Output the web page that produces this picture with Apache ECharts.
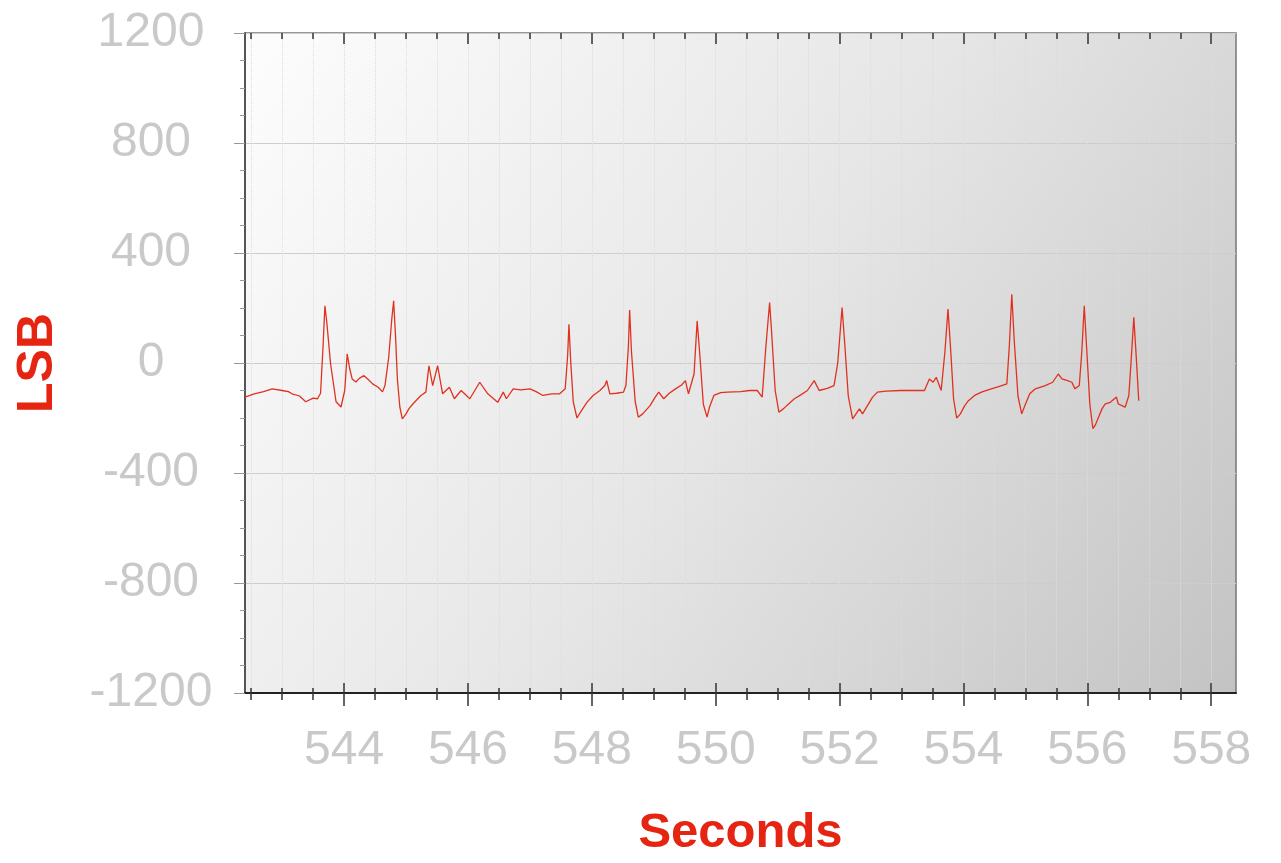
<!DOCTYPE html>
<html>
<head>
<meta charset="utf-8">
<script src="https://cdn.jsdelivr.net/npm/echarts@6/dist/echarts.min.js"></script>
<style>
html,body{margin:0;padding:0;background:#fff;}
#chart{width:1281px;height:863px;}
</style>
</head>
<body>
<div id="chart"></div>
<script>
// Time (seconds) of each sample
const times = [542.40, 542.48, 542.55, 542.70, 542.84, 543.00, 543.10, 543.16, 543.28, 543.38, 543.50, 543.57, 543.62,
  543.66, 543.69, 543.72, 543.78, 543.87, 543.95, 544.01, 544.05, 544.09, 544.13, 544.19, 544.25, 544.32, 544.39,
  544.46, 544.55, 544.62, 544.66, 544.72, 544.77, 544.80, 544.83, 544.86, 544.90, 544.94, 545.00, 545.05, 545.11,
  545.24, 545.32, 545.37, 545.43, 545.51, 545.59, 545.70, 545.78, 545.89, 546.03, 546.19, 546.32, 546.48, 546.57,
  546.62, 546.73, 546.85, 547.00, 547.10, 547.21, 547.35, 547.48, 547.57, 547.61, 547.63, 547.66, 547.70, 547.76,
  547.82, 547.92, 548.02, 548.13, 548.21, 548.24, 548.29, 548.40, 548.51, 548.55, 548.59, 548.61, 548.64, 548.70,
  548.75, 548.82, 548.94, 549.02, 549.08, 549.16, 549.25, 549.35, 549.45, 549.51, 549.56, 549.65, 549.70, 549.74,
  549.80, 549.86, 549.90, 549.97, 550.08, 550.19, 550.40, 550.55, 550.67, 550.75, 550.81, 550.87, 550.90, 550.96,
  551.02, 551.10, 551.18, 551.27, 551.38, 551.48, 551.59, 551.67, 551.80, 551.91, 551.97, 552.04, 552.08, 552.14,
  552.21, 552.32, 552.37, 552.45, 552.53, 552.61, 552.75, 552.99, 553.20, 553.37, 553.45, 553.51, 553.56, 553.64,
  553.70, 553.75, 553.79, 553.84, 553.89, 553.95, 554.02, 554.08, 554.18, 554.30, 554.45, 554.58, 554.70, 554.74,
  554.78, 554.82, 554.88, 554.94, 555.00, 555.07, 555.16, 555.32, 555.44, 555.53, 555.59, 555.68, 555.75, 555.80,
  555.87, 555.91, 555.95, 555.99, 556.04, 556.09, 556.13, 556.18, 556.24, 556.29, 556.37, 556.47, 556.50, 556.56,
  556.61, 556.67, 556.71, 556.75, 556.79, 556.83];
// Signal (LSB)
const lsb = [-124, -118, -112, -104, -94, -100, -104, -112, -120, -141, -128, -130, -110,
  60, 208, 150, 0, -141, -160, -100, 33, -20, -58, -69, -55, -46, -60,
  -76, -88, -105, -82, 20, 160, 226, 100, -58, -160, -203, -185, -165, -149,
  -118, -106, -10, -82, -10, -112, -88, -130, -100, -130, -70, -112, -143, -106,
  -130, -94, -98, -94, -104, -118, -112, -112, -94, 30, 141, 0, -141, -200,
  -178, -143, -118, -100, -82, -64, -112, -110, -106, -82, 60, 193, 40, -140,
  -197, -185, -155, -125, -106, -130, -110, -94, -80, -64, -112, -40, 153, 40,
  -150, -197, -160, -118, -108, -106, -104, -100, -100, -124, 60, 220, 120, -100,
  -179, -165, -148, -130, -115, -100, -64, -100, -92, -82, 0, 202, 80, -120,
  -203, -167, -185, -155, -125, -106, -102, -100, -100, -100, -58, -70, -52, -100,
  40, 196, 60, -130, -200, -185, -155, -137, -118, -105, -94, -85, -76, 60,
  250, 80, -120, -185, -150, -112, -94, -82, -70, -40, -58, -64, -70, -94,
  -82, 40, 208, 50, -150, -239, -225, -197, -165, -149, -143, -124, -149, -155,
  -161, -118, 20, 166, 20, -137];

const xMajorTicks = [544, 546, 548, 550, 552, 554, 556, 558];
const xMinorTicks = [542.5, 543, 543.5, 544, 544.5, 545, 545.5, 546, 546.5, 547, 547.5, 548, 548.5, 549, 549.5,
  550, 550.5, 551, 551.5, 552, 552.5, 553, 553.5, 554, 554.5, 555, 555.5, 556, 556.5, 557, 557.5, 558];
const xMin = 542.4, xMax = 558.4;
const yMin = -1200, yMax = 1200, yStep = 400;

const data = times.map((t, i) => [t, lsb[i]]);

const FONT = '"Liberation Sans", Arial, sans-serif';
const LABEL_COLOR = '#c9c9c9';
const RED = '#e62412';

function tickAxis(position, values, inside, length, extra) {
  return Object.assign({
    type: 'value', position: position, min: xMin, max: xMax,
    axisLine: {show: false, onZero: false},
    axisLabel: {show: false},
    splitLine: {show: false},
    axisTick: {show: true, inside: inside, length: length, customValues: values,
      lineStyle: {color: '#333', width: 1.5}}
  }, extra || {});
}

const chart = echarts.init(document.getElementById('chart'));
chart.setOption({
  animation: false,
  grid: {
    left: 245, right: 45, top: 33, bottom: 168,
    show: true,
    borderColor: '#777', borderWidth: 1.5,
    backgroundColor: new echarts.graphic.LinearGradient(0, 0, 1, 1, [
      {offset: 0, color: '#fdfdfd'},
      {offset: 0.5, color: '#e6e6e6'},
      {offset: 1, color: '#c3c3c3'}
    ])
  },
  xAxis: [
    {
      type: 'value', position: 'bottom', min: xMin, max: xMax,
      axisLine: {show: true, onZero: false, lineStyle: {color: '#222', width: 2}},
      axisTick: {show: true, inside: false, length: 13, customValues: xMajorTicks,
        lineStyle: {color: '#333', width: 1.5}},
      axisLabel: {customValues: xMajorTicks, color: LABEL_COLOR, fontSize: 48, fontFamily: FONT, margin: 34,
        formatter: v => String(v)},
      splitLine: {show: false},
      name: 'Seconds', nameLocation: 'middle', nameGap: 116,
      nameTextStyle: {color: RED, fontSize: 49, fontWeight: 'bold', fontFamily: FONT}
    },
    tickAxis('bottom', xMinorTicks, false, 7, {
      splitLine: {show: true, lineStyle: {color: '#dcdcdc', type: 'dotted', width: 1}}
    }),
    tickAxis('bottom', xMinorTicks, true, 5),
    tickAxis('bottom', xMajorTicks, true, 10),
    tickAxis('top', xMinorTicks, true, 6),
    tickAxis('top', xMajorTicks, true, 11)
  ],
  yAxis: {
    type: 'value', min: yMin, max: yMax, interval: yStep,
    axisLine: {show: true, onZero: false, lineStyle: {color: '#555', width: 2}},
    axisTick: {show: true, inside: false, length: 11, lineStyle: {color: '#999'}},
    minorTick: {show: true, splitNumber: 4, length: 5, lineStyle: {color: '#999'}},
    axisLabel: {color: LABEL_COLOR, fontSize: 48, fontFamily: FONT, margin: 94, align: 'center',
      formatter: v => String(v)},
    splitLine: {show: true, lineStyle: {color: '#cdcdcd', width: 1}},
    name: 'LSB', nameLocation: 'middle', nameGap: 182, nameRotate: 90,
    nameTextStyle: {color: RED, fontSize: 50, fontWeight: 'bold', fontFamily: FONT}
  },
  series: [{
    type: 'line', xAxisIndex: 0, yAxisIndex: 0,
    data: data, showSymbol: false, symbol: 'none',
    lineStyle: {color: '#e0311f', width: 1.3}
  }]
});
</script>
</body>
</html>
